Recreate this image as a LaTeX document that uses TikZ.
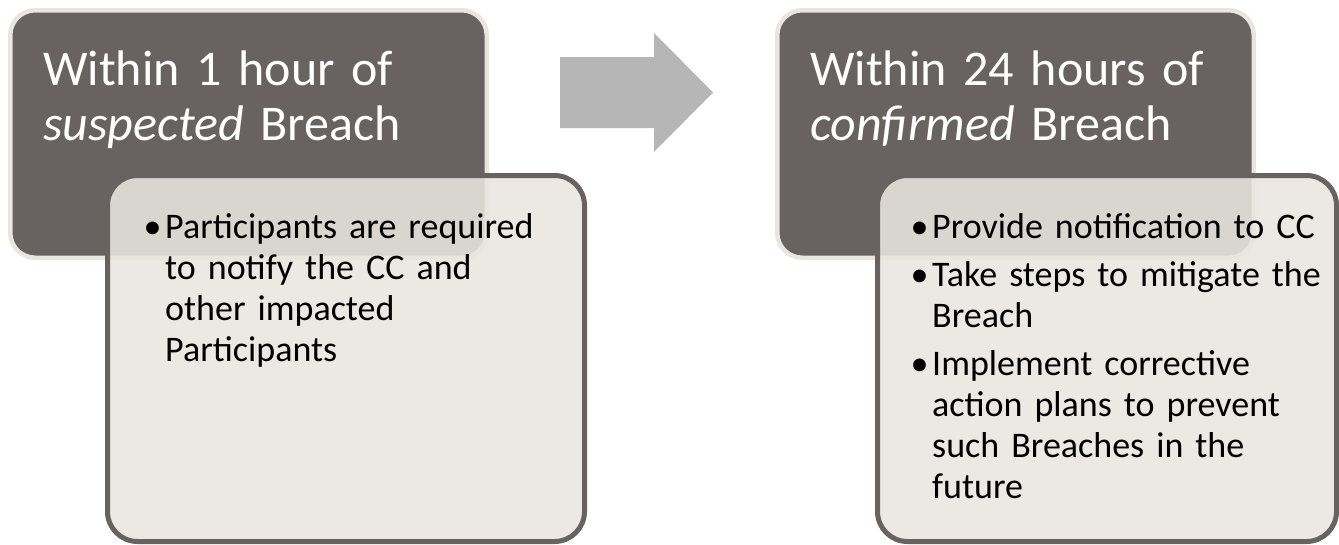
\documentclass[tikz,border=0pt]{standalone}
\usepackage{fontspec}
\setmainfont{Carlito}
\definecolor{boxdark}{RGB}{104,99,97}
\definecolor{boxlight}{RGB}{233,229,223}
\definecolor{arrowgray}{RGB}{182,182,182}
\newcommand{\bpoint}[1]{\noindent\hangindent=21.5pt\hangafter=1\makebox[21.5pt][l]{\textbullet}#1\par}
\newcommand{\bgap}{\vspace{7pt}}

\begin{document}
\begin{tikzpicture}[x=1pt,y=-1pt,
	darkbox/.style={rectangle,rounded corners=25pt,fill=boxdark,draw=boxlight,line width=4.5pt,minimum width=476.5pt,minimum height=247.5pt},
	lightbox/.style={rectangle,rounded corners=30pt,fill=boxlight,fill opacity=0.88,draw=boxdark,line width=5pt,minimum height=366pt},
	titletext/.style={anchor=base west,inner sep=0pt,text width=460pt,align=left,text=white,font=\fontsize{50}{55}\selectfont},
	bodytext/.style={anchor=base west,inner sep=0pt,text width=430pt,align=left,font=\fontsize{36}{41}\selectfont}]
	\useasboundingbox (0,0) rectangle (1339,544);

	% first step
	\node[darkbox] at (248.5,134) (D1) {};
	\node[titletext] at (43,85) (T1) {Within 1 hour of\\\textit{suspected} Breach};
	\node[lightbox,minimum width=477pt] at (346,358.5) (L1) {};
	\node[bodytext] at (143.5,238) (B1) {\bpoint{Participants are required\newline to notify the CC and\newline other impacted\newline Participants}};

	% arrow between the steps
	\fill[arrowgray] (560,57) -- (654,57) -- (654,33) -- (713,92.5) -- (654,152) -- (654,128) -- (560,128) -- cycle;

	% second step
	\node[darkbox] at (1015.5,134) (D2) {};
	\node[titletext] at (810,85) (T2) {Within 24 hours of\\\textit{confirmed} Breach};
	\node[lightbox,minimum width=459pt] at (1107,358.5) (L2) {};
	\node[bodytext] at (910.5,238) (B2) {\bpoint{Provide notification to CC}\bgap
		\bpoint{Take steps to mitigate the\newline Breach}\bgap
		\bpoint{Implement corrective\newline action plans to prevent\newline such Breaches in the\newline future}};
\end{tikzpicture}
\end{document}
